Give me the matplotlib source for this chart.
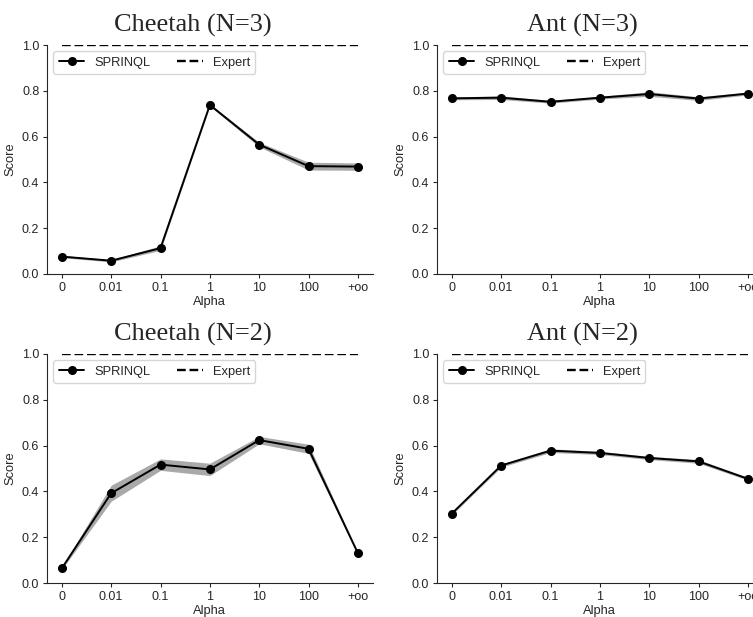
import matplotlib
matplotlib.use('Agg')
import matplotlib.pyplot as plt
import numpy as np
import seaborn as sns

# alpha values on the x axis
alpha_labels = ['0', '0.01', '0.1', '1', '10', '100', '+oo']

# mean score and spread for each panel
cheetah3_mean = [0.076, 0.058, 0.113, 0.738, 0.565, 0.471, 0.469]
cheetah3_std = [0.005, 0.005, 0.010, 0.005, 0.010, 0.017, 0.016]
ant3_mean = [0.767, 0.770, 0.752, 0.770, 0.786, 0.766, 0.788]
ant3_std = [0.006, 0.008, 0.006, 0.006, 0.010, 0.008, 0.006]
cheetah2_mean = [0.064, 0.392, 0.517, 0.496, 0.624, 0.586, 0.130]
cheetah2_std = [0.005, 0.035, 0.025, 0.027, 0.016, 0.020, 0.005]
ant2_mean = [0.303, 0.513, 0.578, 0.568, 0.546, 0.531, 0.455]
ant2_std = [0.006, 0.007, 0.008, 0.007, 0.007, 0.008, 0.006]
expert_score = 1.0

panels = [
    ('Cheetah (N=3)', cheetah3_mean, cheetah3_std),
    ('Ant (N=3)', ant3_mean, ant3_std),
    ('Cheetah (N=2)', cheetah2_mean, cheetah2_std),
    ('Ant (N=2)', ant2_mean, ant2_std),
]

sns.set_style('ticks')
plt.rcParams['font.family'] = ['Liberation Sans', 'DejaVu Sans']

W, H = 753, 617
fig = plt.figure(figsize=(W / 100, H / 100), dpi=100)

# axes boxes in pixels: left, top (the right column runs past the edge, as in the reference)
boxes = [(47, 45), (437, 45), (47, 354), (437, 354)]
aw, ah = 325.7, 229

x = np.arange(len(alpha_labels))
for (title, mean, std), (left, top) in zip(panels, boxes):
    ax = fig.add_axes([left / W, (H - top - ah) / H, aw / W, ah / H])
    mean = np.array(mean)
    std = np.array(std)
    ax.fill_between(x, mean - std, mean + std, color='#a0a0a0', alpha=0.9, linewidth=0)
    ax.plot(x, mean, color='black', marker='o', markersize=5.5, linewidth=1.4, label='SPRINQL')
    ax.plot(x, [expert_score] * len(x), color='black', linestyle='--', linewidth=1.7, label='Expert')
    ax.set_ylim(0, 1.0)
    ax.set_xlim(-0.3, 6.3)
    ax.set_xticks(x)
    ax.set_xticklabels(alpha_labels)
    ax.set_yticks([0.0, 0.2, 0.4, 0.6, 0.8, 1.0])
    ax.tick_params(labelsize=9, length=3, pad=2.5, colors='#262626')
    ax.set_xlabel('Alpha', fontsize=9.3, color='#262626', labelpad=2)
    ax.set_ylabel('Score', fontsize=9.3, color='#262626')
    ax.set_title(title, fontsize=19, family='Liberation Serif', x=0.447, pad=10)
    ax.legend(loc='upper left', ncol=2, fontsize=9.3, frameon=True)
    sns.despine(ax=ax)

plt.savefig('out.png', dpi=100)
